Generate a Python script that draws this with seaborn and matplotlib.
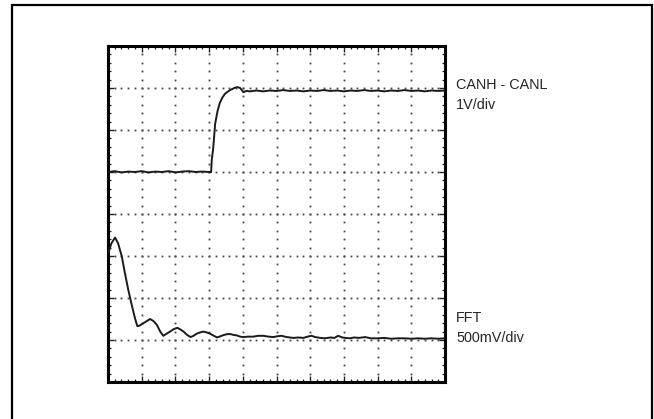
import numpy as np
import pandas as pd
import matplotlib
matplotlib.use("Agg")
import matplotlib.pyplot as plt
from matplotlib.ticker import MultipleLocator
from matplotlib.patches import Rectangle
import seaborn as sns

# ---- data (in screen divisions) ----
canh_x = [0.0, 0.2, 0.4, 0.6, 0.8, 1.0, 1.2, 1.4, 1.6, 1.8, 2.0, 2.2, 2.4, 2.6, 2.8, 3.0,
          3.06, 3.08, 3.12, 3.18, 3.25, 3.32, 3.4, 3.47, 3.55, 3.62, 3.7, 3.77, 3.85, 3.92,
          3.97, 4.02, 4.1, 4.21,
          4.4, 4.6, 4.8, 5.0, 5.2, 5.4, 5.6, 5.8, 6.0, 6.2, 6.4, 6.6, 6.8, 7.0, 7.2, 7.4,
          7.6, 7.8, 8.0, 8.2, 8.4, 8.6, 8.8, 9.0, 9.2, 9.4, 9.6, 9.8, 10.0]
canh_y = [5.00, 5.02, 4.99, 5.01, 5.00, 5.02, 4.99, 5.01, 5.00, 5.02, 4.99, 5.01, 5.02, 5.00, 5.01, 5.00,
          5.00, 5.30, 5.55, 6.15, 6.45, 6.65, 6.78, 6.86, 6.91, 6.95, 6.98, 7.01, 7.02, 7.00,
          6.95, 6.90, 6.93, 6.92,
          6.94, 6.92, 6.94, 6.93, 6.95, 6.93, 6.94, 6.92, 6.94, 6.93, 6.95, 6.93, 6.94, 6.92, 6.94, 6.93,
          6.95, 6.93, 6.94, 6.92, 6.94, 6.93, 6.95, 6.93, 6.94, 6.92, 6.94, 6.93, 6.94]

fft_x = [0.0, 0.1, 0.21, 0.3, 0.41, 0.5, 0.6, 0.7, 0.8, 0.87, 0.93, 1.05, 1.15, 1.25, 1.35, 1.45,
         1.55, 1.64, 1.74, 1.84, 1.95, 2.06, 2.15, 2.24, 2.35, 2.45, 2.54, 2.63, 2.73, 2.83, 2.93,
         3.03, 3.14, 3.24, 3.34, 3.44, 3.54, 3.64, 3.73, 3.82, 3.92, 4.01, 4.16, 4.31, 4.46, 4.61,
         4.76, 4.91, 5.03, 5.15, 5.3, 5.5, 5.65, 5.8, 5.92, 6.04, 6.15, 6.3, 6.44, 6.6, 6.72, 6.83,
         6.95, 7.05, 7.18, 7.3, 7.45, 7.63, 7.8, 8.0, 8.2, 8.4, 8.6, 8.8, 9.0, 9.2, 9.4, 9.6, 9.8, 10.0]
fft_y = [3.05, 3.30, 3.44, 3.30, 2.99, 2.60, 2.20, 1.85, 1.52, 1.33, 1.34, 1.40, 1.45, 1.50, 1.45, 1.36,
         1.20, 1.10, 1.15, 1.20, 1.26, 1.29, 1.25, 1.20, 1.12, 1.07, 1.10, 1.15, 1.18, 1.20, 1.18,
         1.15, 1.10, 1.06, 1.09, 1.12, 1.14, 1.14, 1.12, 1.11, 1.08, 1.07, 1.08, 1.08, 1.10, 1.10,
         1.08, 1.07, 1.09, 1.10, 1.07, 1.05, 1.06, 1.05, 1.08, 1.10, 1.07, 1.05, 1.04, 1.06, 1.05, 1.10,
         1.06, 1.05, 1.04, 1.06, 1.05, 1.07, 1.04, 1.04, 1.05, 1.03, 1.04, 1.04, 1.03, 1.04, 1.03, 1.04, 1.03, 1.04]

labels_canh = ["CANH - CANL", "1V/div"]
labels_fft = ["FFT", "500mV/div"]

n_xdiv, n_ydiv = 10, 8

# ---- style ----
sns.set_style("white")
plt.rcParams['font.family'] = ['Liberation Sans', 'DejaVu Sans']

W, H = 654, 419
fig = plt.figure(figsize=(W / 100, H / 100), dpi=100)
ax = fig.add_axes([108 / W, 1 - 382 / H, (445 - 108) / W, (382 - 46) / H])

df_canh = pd.DataFrame({"x": canh_x, "y": canh_y})
df_fft = pd.DataFrame({"x": fft_x, "y": fft_y})

# graticule dots
minor = np.arange(0, n_xdiv + 0.001, 0.2)
minor_y = np.arange(0, n_ydiv + 0.001, 0.2)
for xi in range(1, n_xdiv):
    ax.plot(np.full_like(minor_y, xi), minor_y, ls='none', marker='s', ms=1.3,
            mec='none', mfc='#444444', zorder=1)
for yk in range(1, n_ydiv):
    ax.plot(minor, np.full_like(minor, yk), ls='none', marker='s', ms=1.3,
            mec='none', mfc='#444444', zorder=1)

sns.lineplot(data=df_canh, x="x", y="y", ax=ax, color="#1a1a1a", lw=1.4,
             sort=False, estimator=None, zorder=3)
sns.lineplot(data=df_fft, x="x", y="y", ax=ax, color="#1a1a1a", lw=1.4,
             sort=False, estimator=None, zorder=3)

ax.set_xlim(0, n_xdiv)
ax.set_ylim(0, n_ydiv)
ax.xaxis.set_major_locator(MultipleLocator(1))
ax.yaxis.set_major_locator(MultipleLocator(1))
ax.xaxis.set_minor_locator(MultipleLocator(0.2))
ax.yaxis.set_minor_locator(MultipleLocator(0.2))
ax.tick_params(which='both', direction='in', top=True, right=True, bottom=True, left=True,
               labelbottom=False, labelleft=False, color='#222222')
ax.tick_params(which='major', length=4, width=1)
ax.tick_params(which='minor', length=2.5, width=0.9)
ax.set_xlabel("")
ax.set_ylabel("")
for s in ax.spines.values():
    s.set_visible(True)
    s.set_linewidth(2.2)
    s.set_color('black')

# labels
fs = 10.4
tx = 456 / W
fig.text(tx, 1 - 85 / H, labels_canh[0], fontsize=fs, va='center', ha='left')
fig.text(tx, 1 - 105 / H, labels_canh[1], fontsize=fs, va='center', ha='left')
fig.text(tx, 1 - 318 / H, labels_fft[0], fontsize=fs, va='center', ha='left')
fig.text(tx, 1 - 338 / H, labels_fft[1], fontsize=fs, va='center', ha='left')

# outer frame
fig.add_artist(Rectangle((12 / W, -0.02), (652 - 12) / W, (1 - 5 / H) + 0.02,
                         transform=fig.transFigure, fill=False, lw=1.6, ec='black'))

fig.savefig("out.png", dpi=100)
